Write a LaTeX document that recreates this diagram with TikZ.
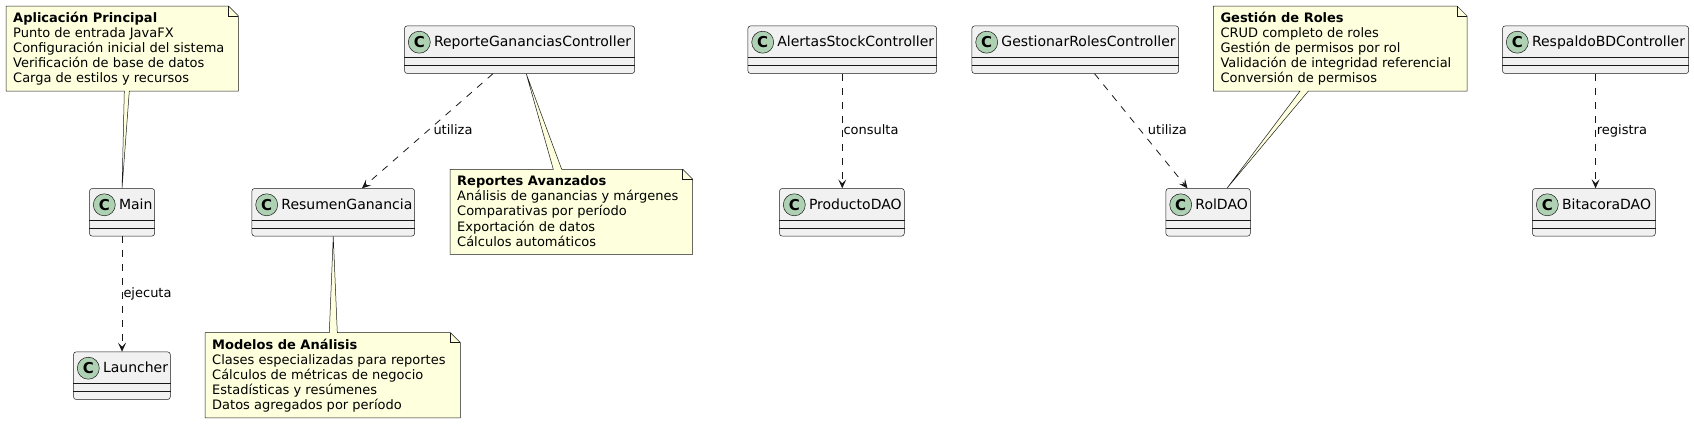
\documentclass[tikz,border=0pt]{standalone}
\usepackage{fontspec}
\setmainfont{DejaVu Sans}
\usepackage{tikz}
\usetikzlibrary{arrows.meta,positioning,calc}
\definecolor{umlline}{HTML}{181818}
\definecolor{classfill}{HTML}{F1F1F1}
\definecolor{circlefill}{HTML}{ADD1B2}
\definecolor{notefill}{HTML}{FEFFDD}
\tikzstyle{classbox}=[draw=umlline,fill=classfill,line width=0.5pt,rounded corners=2.5pt,inner sep=0pt,minimum height=47.5pt,anchor=north west]
\tikzstyle{classsep}=[draw=umlline,line width=0.5pt]
\tikzstyle{classc}=[circle,draw=umlline,fill=circlefill,line width=0.5pt,minimum size=22pt,inner sep=0pt,font=\fontsize{15}{15}\selectfont\bfseries]
\tikzstyle{classname}=[inner sep=0pt,anchor=base west,font=\fontsize{14}{16}\selectfont]
\tikzstyle{notebox}=[inner sep=0pt,minimum height=84.7pt,anchor=north west]
\tikzstyle{noteline}=[draw=umlline,fill=notefill,line width=0.5pt,line join=miter]
\tikzstyle{foldline}=[draw=umlline,line width=0.5pt]
% base of a 5-line note text sits on its last line
\tikzstyle{notetext}=[inner sep=0pt,anchor=base west,align=left,font=\fontsize{13}{15.13}\selectfont]
\tikzstyle{uses}=[draw=umlline,line width=0.8pt,dash pattern=on 7pt off 7pt,-{Stealth[length=9pt,width=8pt,inset=4pt]}]
\tikzstyle{uselabel}=[inner sep=0pt,anchor=base west,font=\fontsize{13}{15}\selectfont]
% class box: name, x, y, width, label
\newcommand{\umlclass}[5]{%
  \node[classbox,minimum width=#4pt] (#1) at (#2,#3) {};
  \draw[classsep] ([yshift=-32pt]#1.north west) -- ([yshift=-32pt]#1.north east);
  \draw[classsep] ([yshift=-40pt]#1.north west) -- ([yshift=-40pt]#1.north east);
  \node[classc] (#1-c) at ([xshift=15pt,yshift=-16.5pt]#1.north west) {C};
  \node[classname] (#1-name) at ([xshift=29.5pt,yshift=-21pt]#1.north west) {#5};
}
% dog-ear of a note
\newcommand{\notefold}[1]{%
  \draw[foldline] ([xshift=-10pt]#1.north east) |- ([yshift=-10pt]#1.north east);
}

\begin{document}
\begin{tikzpicture}[x=1pt,y=-1pt]
\useasboundingbox (0,0) rectangle (1694,423);

% classes
\umlclass{main}{89.3}{188.3}{65}{Main}
\umlclass{launcher}{73.3}{351.7}{96.7}{Launcher}
\umlclass{resumen}{251.7}{188.3}{162.6}{ResumenGanancia}
\umlclass{reporte}{404.3}{25.7}{230}{ReporteGananciasController}
\umlclass{alertas}{747.7}{25.7}{188.6}{AlertasStockController}
\umlclass{producto}{779.3}{188.3}{124.7}{ProductoDAO}
\umlclass{gestionar}{971.7}{25.7}{206.6}{GestionarRolesController}
\umlclass{roldao}{1165.7}{188.3}{84.3}{RolDAO}
\umlclass{respaldo}{1502.3}{25.7}{186}{RespaldoBDController}
\umlclass{bitacora}{1532.3}{188.3}{122.7}{BitacoraDAO}

% note on Main
\node[notebox,minimum width=232pt] (apnote) at (6,6) {};
\draw[noteline] (apnote.north west) -- ([xshift=-10pt]apnote.north east)
  -- ([yshift=-10pt]apnote.north east) -- (apnote.south east)
  -- ([xshift=123.3pt]apnote.south west) -- (main.north)
  -- ([xshift=118.3pt]apnote.south west) -- (apnote.south west) -- cycle;
\notefold{apnote}
\node[notetext] (apnote-text) at ([xshift=7pt,yshift=-76.9pt]apnote.north west)
  {\textbf{Aplicación Principal}\\Punto de entrada JavaFX\\Configuración inicial del sistema\\Verificación de base de datos\\Carga de estilos y recursos};

% note on ResumenGanancia
\node[notebox,minimum width=255pt] (modnote) at (205,332.7) {};
\draw[noteline] (modnote.north west) -- ([xshift=124.3pt]modnote.north west)
  -- (resumen.south) -- ([xshift=132.3pt]modnote.north west)
  -- ([xshift=-10pt]modnote.north east) -- ([yshift=-10pt]modnote.north east)
  -- (modnote.south east) -- (modnote.south west) -- cycle;
\notefold{modnote}
\node[notetext] (modnote-text) at ([xshift=7pt,yshift=-76.9pt]modnote.north west)
  {\textbf{Modelos de Análisis}\\Clases especializadas para reportes\\Cálculos de métricas de negocio\\Estadísticas y resúmenes\\Datos agregados por período};

% note on ReporteGananciasController
\node[notebox,minimum width=242.3pt] (repnote) at (450,169.3) {};
\draw[noteline] (repnote.north west) -- ([xshift=103.3pt]repnote.north west)
  -- ([xshift=6.7pt]reporte.south) -- ([xshift=111.7pt]repnote.north west)
  -- ([xshift=-10pt]repnote.north east) -- ([yshift=-10pt]repnote.north east)
  -- (repnote.south east) -- (repnote.south west) -- cycle;
\notefold{repnote}
\node[notetext] (repnote-text) at ([xshift=7pt,yshift=-76.9pt]repnote.north west)
  {\textbf{Reportes Avanzados}\\Análisis de ganancias y márgenes\\Comparativas por período\\Exportación de datos\\Cálculos automáticos};

% note on RolDAO
\node[notebox,minimum width=253.4pt] (gesnote) at (1213.3,6) {};
\draw[noteline] (gesnote.north west) -- ([xshift=-10pt]gesnote.north east)
  -- ([yshift=-10pt]gesnote.north east) -- (gesnote.south east)
  -- ([xshift=95pt]gesnote.south west) -- ([xshift=18.8pt]roldao.north)
  -- ([xshift=86.7pt]gesnote.south west) -- (gesnote.south west) -- cycle;
\notefold{gesnote}
\node[notetext] (gesnote-text) at ([xshift=7pt,yshift=-76.9pt]gesnote.north west)
  {\textbf{Gestión de Roles}\\CRUD completo de roles\\Gestión de permisos por rol\\Validación de integridad referencial\\Conversión de permisos};

% dependencies
\draw[uses] (main.south) -- (main.south |- launcher.north);
\draw[uses] ([xshift=-26.6pt]reporte.south) -- ([xshift=28.7pt]resumen.north);
\draw[uses] (alertas.south) -- (alertas.south |- producto.north);
\draw[uses] ([xshift=19.3pt]gestionar.south) -- ([xshift=-20.6pt]roldao.north);
\draw[uses] (respaldo.south) -- (respaldo.south |- bitacora.north);

% labels
\node[uselabel] (lab-ejecuta) at (123.3,297.3) {ejecuta};
\node[uselabel] (lab-utiliza1) at (433.3,134.3) {utiliza};
\node[uselabel] (lab-consulta) at (843.3,134.3) {consulta};
\node[uselabel] (lab-utiliza2) at (1147.7,134.3) {utiliza};
\node[uselabel] (lab-registra) at (1596.7,134.3) {registra};
\end{tikzpicture}
\end{document}
